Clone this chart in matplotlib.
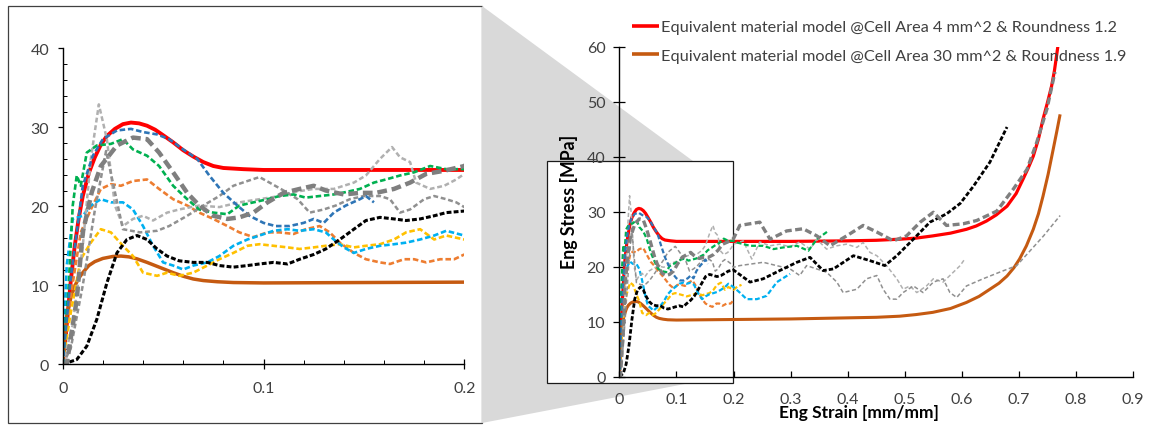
import matplotlib
matplotlib.use("Agg")
import matplotlib.pyplot as plt
from matplotlib.patches import Rectangle, Polygon
from matplotlib.lines import Line2D

# strain [mm/mm] / stress [MPa]

# model curves
red_x = [0, 0.002, 0.004, 0.006, 0.008, 0.010, 0.013, 0.016, 0.019, 0.022, 0.026, 0.030, 0.034,
         0.038, 0.042, 0.046, 0.050, 0.055, 0.060, 0.065, 0.070, 0.075, 0.080, 0.090, 0.100,
         0.200, 0.300, 0.400, 0.450, 0.491, 0.520, 0.549, 0.580, 0.608, 0.625, 0.643, 0.660,
         0.679, 0.695, 0.707, 0.716, 0.725, 0.734, 0.742, 0.750, 0.757, 0.762, 0.768]
red_y = [0, 5.0, 10.5, 15.0, 18.5, 21.3, 24.2, 26.2, 27.8, 28.9, 29.8, 30.4, 30.6,
         30.5, 30.2, 29.7, 29.0, 28.1, 27.1, 26.3, 25.6, 25.1, 24.85, 24.7, 24.6,
         24.6, 24.6, 24.7, 24.8, 25.0, 25.2, 25.6, 26.1, 26.8, 27.4, 28.3, 29.4,
         31.0, 33.3, 35.9, 37.9, 40.1, 43.2, 46.8, 49.9, 52.8, 55.6, 60.0]

brown_x = [0, 0.002, 0.004, 0.006, 0.008, 0.010, 0.013, 0.016, 0.020, 0.025, 0.029, 0.033, 0.037,
           0.042, 0.048, 0.055, 0.060, 0.065, 0.070, 0.077, 0.085, 0.100, 0.200, 0.300, 0.400,
           0.450, 0.491, 0.520, 0.549, 0.580, 0.608, 0.630, 0.649, 0.665, 0.679, 0.691, 0.701,
           0.713, 0.725, 0.734, 0.742, 0.751, 0.760, 0.766, 0.772]
brown_y = [0, 6.1, 8.4, 9.9, 10.9, 11.6, 12.5, 13.0, 13.4, 13.65, 13.7, 13.6, 13.35,
           12.9, 12.3, 11.6, 11.15, 10.8, 10.6, 10.45, 10.35, 10.3, 10.4, 10.5, 10.7,
           10.8, 11.0, 11.3, 11.7, 12.4, 13.5, 14.6, 15.9, 17.0, 18.3, 19.8, 21.4,
           23.8, 26.8, 29.6, 32.8, 36.8, 41.4, 44.5, 47.7]

# test curves
blue_x = [0, 0.0037, 0.007, 0.010, 0.015, 0.020, 0.027, 0.034, 0.040, 0.047, 0.053, 0.060, 0.067,
          0.073, 0.080, 0.087, 0.093, 0.100, 0.106, 0.113, 0.120, 0.125, 0.130, 0.135, 0.141,
          0.148, 0.151, 0.155]
blue_y = [0, 10.3, 16.7, 22.6, 26.4, 28.5, 29.6, 29.8, 29.4, 29.1, 28.5, 27.2, 26.0,
          23.9, 21.7, 20.1, 18.8, 17.9, 17.5, 17.5, 17.9, 18.4, 17.9, 19.2, 20.1,
          20.9, 21.3, 20.5]

green_x = [0, 0.003, 0.005, 0.007, 0.009, 0.012, 0.017, 0.024, 0.030, 0.035, 0.042, 0.048, 0.055,
           0.062, 0.068, 0.075, 0.082, 0.088, 0.095, 0.102, 0.108, 0.115, 0.121, 0.128, 0.135,
           0.141, 0.148, 0.155, 0.161, 0.168, 0.175, 0.183, 0.191, 0.200, 0.206, 0.229, 0.252,
           0.270, 0.287, 0.311, 0.331, 0.346, 0.366]
green_y = [0, 10.0, 20.1, 23.9, 22.6, 26.8, 27.7, 27.9, 28.5, 27.2, 26.4, 25.1, 22.6,
           20.9, 19.6, 19.2, 19.0, 20.1, 20.5, 20.9, 21.3, 21.5, 21.1, 21.3, 21.5,
           21.8, 22.2, 23.0, 23.4, 23.9, 24.3, 25.1, 24.7, 24.7, 24.4, 23.8, 23.8,
           23.2, 23.5, 23.8, 22.9, 25.0, 26.5]

orange_x = [0, 0.0037, 0.009, 0.014, 0.019, 0.024, 0.029, 0.035, 0.042, 0.048, 0.055, 0.062, 0.068,
            0.075, 0.082, 0.088, 0.095, 0.102, 0.108, 0.115, 0.121, 0.128, 0.133, 0.138, 0.145,
            0.151, 0.158, 0.163, 0.170, 0.175, 0.181, 0.188, 0.195, 0.200]
orange_y = [0, 8.2, 16.7, 19.6, 22.2, 22.8, 22.6, 23.2, 23.4, 22.2, 20.9, 20.1, 19.2,
            18.4, 17.5, 16.7, 16.1, 16.7, 16.7, 16.5, 17.1, 17.5, 16.7, 15.4, 14.1,
            13.3, 12.9, 12.7, 13.3, 13.3, 12.9, 13.3, 13.3, 13.9]

cyan_x = [0, 0.002, 0.005, 0.010, 0.014, 0.019, 0.024, 0.030, 0.035, 0.040, 0.045, 0.050, 0.055,
          0.060, 0.065, 0.072, 0.078, 0.085, 0.092, 0.098, 0.105, 0.112, 0.118, 0.125, 0.131,
          0.135, 0.140, 0.145, 0.151, 0.158, 0.165, 0.171, 0.178, 0.185, 0.191, 0.200, 0.211,
          0.223, 0.241, 0.258, 0.276, 0.299]
cyan_y = [0, 12.5, 18.4, 18.8, 20.1, 20.9, 20.5, 20.5, 19.6, 17.5, 15.0, 12.9, 12.5,
          12.0, 12.5, 12.9, 13.7, 15.0, 15.8, 16.3, 16.9, 17.1, 16.9, 17.1, 16.7,
          15.8, 14.8, 14.1, 14.6, 15.0, 15.2, 15.4, 15.8, 16.3, 16.9, 16.3, 15.3,
          14.1, 14.1, 14.7, 17.2, 18.7]

yellow_x = [0, 0.0037, 0.009, 0.014, 0.019, 0.024, 0.030, 0.035, 0.040, 0.047, 0.052, 0.058, 0.065,
            0.072, 0.078, 0.085, 0.092, 0.098, 0.105, 0.112, 0.118, 0.125, 0.131, 0.138, 0.145,
            0.151, 0.158, 0.165, 0.171, 0.178, 0.185, 0.191, 0.200, 0.207, 0.214]
yellow_y = [0, 6.1, 13.3, 15.4, 17.1, 16.7, 15.0, 13.7, 11.6, 11.2, 11.6, 11.2, 11.6,
            12.5, 13.3, 14.1, 15.0, 15.2, 15.0, 14.8, 14.6, 14.8, 15.0, 15.2, 14.8,
            15.0, 15.2, 15.8, 16.7, 17.1, 15.8, 16.3, 15.8, 16.4, 16.7]

black_x = [0, 0.007, 0.012, 0.017, 0.022, 0.027, 0.032, 0.037, 0.042, 0.047, 0.052, 0.058, 0.065,
           0.072, 0.078, 0.085, 0.092, 0.098, 0.105, 0.112, 0.118, 0.125, 0.131, 0.138, 0.145,
           0.151, 0.158, 0.165, 0.171, 0.178, 0.185, 0.191, 0.200, 0.229, 0.252, 0.281, 0.311,
           0.334, 0.357, 0.375, 0.410, 0.439, 0.465, 0.486, 0.515, 0.544, 0.573, 0.597, 0.620,
           0.649, 0.679]
black_y = [0, 0.6, 2.3, 5.7, 10.3, 14.1, 15.8, 16.3, 15.8, 14.6, 13.7, 13.1, 12.9,
           12.9, 12.5, 12.3, 12.5, 12.7, 12.9, 12.7, 13.3, 13.9, 14.6, 15.8, 17.1,
           18.2, 18.6, 18.4, 18.2, 18.4, 18.8, 19.2, 19.4, 17.2, 17.8, 19.3, 20.8,
           21.7, 19.3, 19.6, 22.0, 21.1, 20.2, 22.0, 25.0, 28.1, 29.6, 31.5, 34.6,
           39.0, 45.4]

dkgray_x = [0, 0.002, 0.007, 0.010, 0.0145, 0.019, 0.027, 0.035, 0.042, 0.048, 0.055, 0.062, 0.068,
            0.075, 0.082, 0.088, 0.095, 0.102, 0.110, 0.118, 0.125, 0.131, 0.140, 0.148, 0.156,
            0.165, 0.173, 0.181, 0.190, 0.200, 0.211, 0.246, 0.264, 0.293, 0.322, 0.346, 0.369,
            0.398, 0.427, 0.451, 0.480, 0.503, 0.527, 0.550, 0.573, 0.602, 0.626, 0.661, 0.690,
            0.714, 0.731, 0.749, 0.763]
dkgray_y = [0, 0, 8.2, 16.7, 21.8, 25.1, 27.7, 28.7, 28.5, 26.8, 24.3, 21.7, 20.1,
            18.8, 18.4, 18.6, 19.2, 20.5, 21.7, 22.2, 22.6, 22.0, 21.5, 21.7, 21.7,
            22.2, 23.0, 24.1, 24.5, 25.1, 27.5, 28.1, 25.0, 26.5, 26.9, 25.6, 23.8,
            25.6, 27.5, 26.3, 24.7, 25.6, 28.1, 29.9, 27.5, 27.8, 28.4, 30.1, 34.1,
            37.7, 42.6, 48.7, 55.4]

ltgray_x = [0, 0.005, 0.010, 0.014, 0.018, 0.022, 0.026, 0.030, 0.035, 0.040, 0.045, 0.052, 0.058,
            0.068, 0.078, 0.088, 0.098, 0.108, 0.115, 0.125, 0.135, 0.145, 0.151, 0.158, 0.164,
            0.168, 0.173, 0.176, 0.183, 0.190, 0.196, 0.200, 0.217, 0.232, 0.246, 0.264, 0.281,
            0.299, 0.316, 0.334, 0.346, 0.363, 0.381, 0.398, 0.416, 0.427, 0.439, 0.451, 0.468,
            0.486, 0.497, 0.509, 0.521, 0.538, 0.550, 0.567, 0.585, 0.597, 0.605]
ltgray_y = [0, 5.0, 15.0, 26.0, 32.9, 28.5, 20.1, 17.5, 18.4, 18.8, 18.2, 19.2, 19.6,
            20.1, 19.9, 20.5, 20.9, 21.3, 21.8, 22.2, 22.2, 23.0, 23.9, 26.0, 27.5,
            26.2, 25.6, 23.0, 22.2, 22.6, 23.4, 24.1, 24.7, 21.4, 24.5, 23.8, 24.1,
            23.6, 24.5, 23.2, 25.0, 23.2, 23.8, 24.1, 23.5, 24.4, 22.6, 22.0, 20.2,
            17.8, 15.9, 16.5, 15.3, 16.5, 17.8, 17.2, 19.0, 20.2, 21.4]

mdgray_x = [0, 0.004, 0.010, 0.016, 0.0216, 0.030, 0.0385, 0.047, 0.053, 0.062, 0.070, 0.078, 0.085,
            0.092, 0.098, 0.103, 0.110, 0.117, 0.123, 0.130, 0.136, 0.143, 0.150, 0.158, 0.163,
            0.168, 0.173, 0.180, 0.185, 0.191, 0.196, 0.200, 0.211, 0.252, 0.299, 0.316, 0.328,
            0.363, 0.381, 0.392, 0.416, 0.433, 0.451, 0.462, 0.474, 0.486, 0.497, 0.515, 0.532,
            0.550, 0.567, 0.579, 0.591, 0.608, 0.637, 0.666, 0.696, 0.743, 0.772]
mdgray_y = [0, 2.0, 10.0, 19.5, 27.0, 17.1, 16.7, 16.9, 17.5, 18.8, 20.1, 21.3, 22.6,
            23.2, 23.7, 23.0, 22.0, 20.9, 19.2, 19.6, 20.1, 20.9, 21.3, 21.3, 20.9,
            19.2, 19.6, 20.9, 21.3, 20.9, 20.5, 19.9, 20.2, 20.8, 19.6, 18.4, 20.2,
            19.0, 17.2, 15.3, 15.9, 17.8, 18.4, 15.9, 14.1, 14.1, 15.3, 16.5, 15.3,
            17.2, 17.8, 15.3, 14.4, 16.5, 17.8, 19.0, 20.2, 25.6, 29.3]

legend_labels = ["Equivalent material model @Cell Area 4 mm^2 & Roundness 1.2",
                 "Equivalent material model @Cell Area 30 mm^2 & Roundness 1.9"]
left_xticks = [0, 0.1, 0.2]
left_yticks = [0, 10, 20, 30, 40]
right_xticks = [0, 0.1, 0.2, 0.3, 0.4, 0.5, 0.6, 0.7, 0.8, 0.9]
right_yticks = [0, 10, 20, 30, 40, 50, 60]

plt.rcParams['font.family'] = ['Lato', 'DejaVu Sans']
plt.rcParams['lines.scale_dashes'] = False
plt.rcParams['lines.solid_capstyle'] = 'butt'
plt.rcParams['lines.dash_capstyle'] = 'butt'
TXT = '#404040'

W, H = 1152, 427
fig = plt.figure(figsize=(W / 100, H / 100), dpi=100)


def px(x, y):
    # pixel (from top-left) -> figure fraction
    return (x / W, 1 - y / H)


# zoom decoration: outer box, grey funnel, small frame
box = Rectangle(px(8.3, 424.3), (481.7 - 8.3) / W, (424.3 - 7) / H, transform=fig.transFigure,
                facecolor='white', edgecolor='#404040', lw=0.9, zorder=-3)
fig.add_artist(box)
funnel = Polygon([px(482, 7), px(693, 162), px(690, 384), px(482, 424)], closed=True,
                 transform=fig.transFigure, facecolor='#d9d9d9', edgecolor='none', zorder=-2)
fig.add_artist(funnel)
frame = Rectangle(px(547, 384), (733 - 547) / W, (384 - 162) / H, transform=fig.transFigure,
                  facecolor='white', edgecolor='#1a1a1a', lw=0.9, zorder=-1)
fig.add_artist(frame)

ax1 = fig.add_axes([62.7 / W, 1 - 365.3 / H, (464.3 - 62.7) / W, (365.3 - 49.3) / H])
ax2 = fig.add_axes([619.3 / W, 1 - 377.7 / H, (1133.2 - 619.3) / W, (377.7 - 47.7) / H])
ax2.patch.set_visible(False)

# (x, y, colour, left lw, right lw, left dashes, right dashes)
series = [
    (red_x, red_y, '#ff0000', 2.8, 2.3, None, None),
    (brown_x, brown_y, '#c55a11', 2.5, 2.2, None, None),
    (orange_x, orange_y, '#ed7d31', 1.9, 1.6, (4, 2), (3.5, 1.8)),
    (yellow_x, yellow_y, '#ffc000', 1.9, 1.6, (4, 2), (3.5, 1.8)),
    (cyan_x, cyan_y, '#00b0f0', 1.9, 1.6, (4, 2), (3.5, 1.8)),
    (ltgray_x, ltgray_y, '#b0b0b0', 1.8, 1.1, (3.5, 2), (3, 1.8)),
    (mdgray_x, mdgray_y, '#909090', 1.8, 1.1, (3.5, 2), (3, 1.8)),
    (black_x, black_y, '#000000', 2.2, 2.0, (3.5, 1.6), (3.2, 1.5)),
    (green_x, green_y, '#00b050', 1.9, 1.6, (4, 2), (3.5, 1.8)),
    (blue_x, blue_y, '#2e75b6', 1.9, 1.6, (4, 2), (3.5, 1.8)),
    (dkgray_x, dkgray_y, '#7f7f7f', 3.2, 2.4, (7, 3.5), (5, 2.5)),
]

handles = []
for x, y, c, lw1, lw2, d1, d2 in series:
    l1, = ax1.plot(x, y, color=c, lw=lw1)
    l2, = ax2.plot(x, y, color=c, lw=lw2)
    if d1 is not None:
        l1.set_dashes(d1)
        l2.set_dashes(d2)
    else:
        handles.append(Line2D([], [], color=c, lw=2.6))

# left (magnified) chart
ax1.set_xlim(0, 0.2)
ax1.set_ylim(0, 40)
for s in ['top', 'right']:
    ax1.spines[s].set_visible(False)
ax1.set_xticks(left_xticks)
ax1.set_xticklabels(['0', '0.1', '0.2'])
ax1.set_yticks(left_yticks)
ax1.set_xticks([i * 0.02 for i in range(1, 10)], minor=True)
ax1.set_yticks([i * 2 for i in range(1, 20)], minor=True)
ax1.tick_params(axis='x', which='major', direction='inout', length=7.5, width=0.9, pad=8,
                labelsize=11.5, labelcolor=TXT)
ax1.tick_params(axis='x', which='minor', direction='in', length=3, width=0.7)
ax1.tick_params(axis='y', which='major', direction='out', length=3.8, width=0.9, pad=6,
                labelsize=11.5, labelcolor=TXT)
ax1.tick_params(axis='y', which='minor', direction='in', length=3, width=0.7)
ax1.spines['left'].set_linewidth(1.0)
ax1.spines['bottom'].set_linewidth(1.0)

# main chart
ax2.set_xlim(0, 0.9)
ax2.set_ylim(0, 60)
for s in ['top', 'right']:
    ax2.spines[s].set_visible(False)
ax2.set_xticks(right_xticks)
ax2.set_xticklabels(['0'] + ['%.1f' % v for v in right_xticks[1:]])
ax2.set_yticks(right_yticks)
ax2.tick_params(axis='x', direction='in', length=4.5, width=0.9, pad=11,
                labelsize=11.5, labelcolor=TXT)
ax2.tick_params(axis='y', direction='inout', length=8, width=0.9, pad=6,
                labelsize=11.5, labelcolor=TXT)
ax2.spines['left'].set_linewidth(1.0)
ax2.spines['bottom'].set_linewidth(1.0)
ax2.set_xlabel('Eng Strain [mm/mm]', fontsize=12.5, fontweight='bold', color='black')
ax2.set_ylabel('Eng Stress [MPa]', fontsize=12.8, fontweight='bold', color='black')
ax2.xaxis.set_label_coords(0.466, -0.083)
ax2.yaxis.set_label_coords(-0.08, 0.533)

ax2.legend(handles, legend_labels, loc='upper left', bbox_to_anchor=px(632, 21),
           bbox_transform=fig.transFigure, frameon=False, fontsize=11.7, handlelength=1.65,
           handletextpad=0.15, labelspacing=0.85, borderpad=0, borderaxespad=0,
           labelcolor=TXT)

fig.savefig('out.png', dpi=100)
